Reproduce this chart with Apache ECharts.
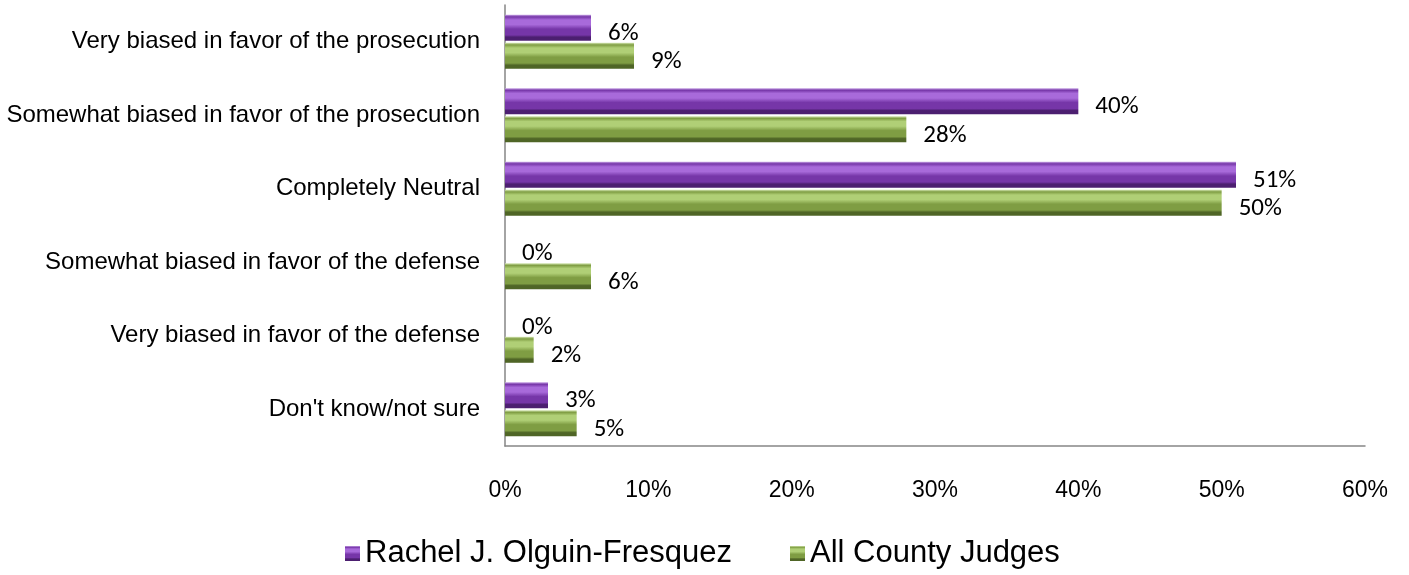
<!DOCTYPE html>
<html>
<head>
<meta charset="utf-8">
<script src="https://cdn.jsdelivr.net/npm/echarts@6/dist/echarts.min.js"></script>
<style>html,body{margin:0;padding:0;background:#fff}#c{width:1409px;height:575px}</style>
</head>
<body>
<div id="c"></div>
<script>
const categories = [
  "Very biased in favor of the prosecution",
  "Somewhat biased in favor of the prosecution",
  "Completely Neutral",
  "Somewhat biased in favor of the defense",
  "Very biased in favor of the defense",
  "Don't know/not sure"
];
const seriesNames = ["Rachel J. Olguin-Fresquez", "All County Judges"];
const rachelValues = [6, 40, 51, 0, 0, 3];
const countyValues = [9, 28, 50, 6, 2, 5];
const xTicks = { min: 0, max: 60, interval: 10 };

function grad(edge, light, mid, dark) {
  return new echarts.graphic.LinearGradient(0, 0, 0, 1, [
    { offset: 0, color: edge },
    { offset: 0.08, color: mid },
    { offset: 0.2, color: light },
    { offset: 0.38, color: light },
    { offset: 0.55, color: mid },
    { offset: 0.78, color: mid },
    { offset: 0.86, color: dark },
    { offset: 1, color: dark }
  ]);
}
const purple = grad('#c9a6e6', '#a86ada', '#7636a8', '#4c1f70');
const green = grad('#d4e6b2', '#b0cf76', '#7f9d43', '#4f6526');

const chart = echarts.init(document.getElementById('c'));
const labelStyle = {
  show: true, position: 'right', distance: 17, offset: [0, 6],
  formatter: '{c}%', fontFamily: 'Carlito, Lato, sans-serif', fontSize: 25, color: '#000'
};
chart.setOption({
  animation: false,
  grid: { left: 505, right: 44, top: 5, bottom: 129, containLabel: false },
  legend: {
    top: 533, left: 340, itemWidth: 15, itemHeight: 15, itemGap: 58,
    textStyle: { fontFamily: 'Liberation Sans, Arial, sans-serif', fontSize: 31, color: '#000' },
    data: [
      { name: seriesNames[0], icon: 'rect' },
      { name: seriesNames[1], icon: 'rect' }
    ]
  },
  xAxis: {
    type: 'value', min: xTicks.min, max: xTicks.max, interval: xTicks.interval,
    axisLine: { show: true, lineStyle: { color: '#868686', width: 1.5 } },
    axisTick: { show: false },
    splitLine: { show: false },
    axisLabel: { formatter: '{value}%', margin: 33, fontFamily: 'Liberation Sans, Arial, sans-serif', fontSize: 23, color: '#000' }
  },
  yAxis: {
    type: 'category', data: categories, inverse: true,
    axisLine: { show: true, lineStyle: { color: '#868686', width: 1.5 } },
    axisTick: { show: false },
    axisLabel: { margin: 25, fontFamily: 'Liberation Sans, Arial, sans-serif', fontSize: 24, color: '#000' }
  },
  series: [
    {
      name: seriesNames[0], type: 'bar', data: rachelValues,
      barWidth: 26, barGap: '8%',
      itemStyle: { color: purple, borderWidth: 0 },
      label: labelStyle
    },
    {
      name: seriesNames[1], type: 'bar', data: countyValues,
      barWidth: 26, barGap: '8%',
      itemStyle: { color: green, borderWidth: 0 },
      label: labelStyle
    }
  ]
});
</script>
</body>
</html>
